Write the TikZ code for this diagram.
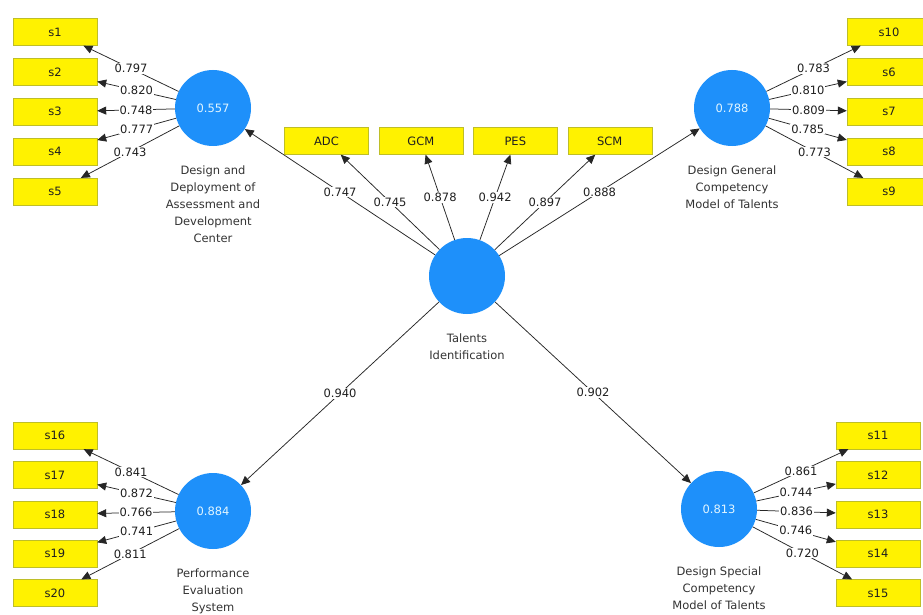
\documentclass[tikz,border=0pt]{standalone}
\usepackage{fontspec}
\setmainfont{DejaVu Sans}
\usetikzlibrary{positioning,arrows.meta}

\definecolor{lvblue}{RGB}{30,144,250}
\definecolor{lvtext}{RGB}{225,245,255}
\definecolor{boxedge}{RGB}{190,190,40}

\begin{document}
\begin{tikzpicture}[x=1pt,y=-1pt,
		every node/.style={font=\fontsize{11.5}{17}\selectfont, text=black!88},
		latent/.style={circle, fill=lvblue, minimum size=76pt, inner sep=0pt, text=lvtext},
		indbox/.style={rectangle, draw=boxedge, fill=yellow, minimum width=84pt, minimum height=27pt, inner sep=0pt},
		lvname/.style={align=center, inner sep=0pt, text=black!80},
		link/.style={draw=black!85, line width=0.75pt, -{Triangle[length=9pt,width=8pt]}},
		wt/.style={fill=white, inner sep=1pt}]
	\useasboundingbox (0,0) rectangle (923,615);
	\clip (0,0) rectangle (923,615);
	\fill[white] (0,0) rectangle (923,615);

	% latent variables
	\node[latent] (ti) at (467,276) {};
	\node[latent] (adc) at (213,108) {0.557};
	\node[latent] (gcm) at (732,108) {0.788};
	\node[latent] (pes) at (213,511) {0.884};
	\node[latent] (scm) at (719,509) {0.813};

	\node[lvname, below=19pt of ti] {Talents\\Identification};
	\node[lvname, below=19pt of adc] {Design and\\Deployment of\\Assessment and\\Development\\Center};
	\node[lvname, below=19pt of gcm] {Design General\\Competency\\Model of Talents};
	\node[lvname, below=19pt of pes] {Performance\\Evaluation\\System};
	\node[lvname, below=19pt of scm] {Design Special\\Competency\\Model of Talents};

	% second order indicators
	\node[indbox] (iadc) at (326.5,141) {ADC};
	\node[indbox, right=10pt of iadc] (igcm) {GCM};
	\node[indbox, right=10pt of igcm] (ipes) {PES};
	\node[indbox, right=10pt of ipes] (iscm) {SCM};

	% indicators of ADC
	\node[indbox] (s1) at (55,32) {s1};
	\node[indbox, below=12.5pt of s1] (s2) {s2};
	\node[indbox, below=12.5pt of s2] (s3) {s3};
	\node[indbox, below=12.5pt of s3] (s4) {s4};
	\node[indbox, below=12.5pt of s4] (s5) {s5};

	% indicators of GCM
	\node[indbox] (s10) at (889,32) {s10};
	\node[indbox, below=12.5pt of s10] (s6) {s6};
	\node[indbox, below=12.5pt of s6] (s7) {s7};
	\node[indbox, below=12.5pt of s7] (s8) {s8};
	\node[indbox, below=12.5pt of s8] (s9) {s9};

	% indicators of PES
	\node[indbox] (s16) at (55,435.5) {s16};
	\node[indbox, below=12pt of s16] (s17) {s17};
	\node[indbox, below=12pt of s17] (s18) {s18};
	\node[indbox, below=12pt of s18] (s19) {s19};
	\node[indbox, below=12pt of s19] (s20) {s20};

	% indicators of SCM
	\node[indbox] (s11) at (878,435.5) {s11};
	\node[indbox, below=12pt of s11] (s12) {s12};
	\node[indbox, below=12pt of s12] (s13) {s13};
	\node[indbox, below=12pt of s13] (s14) {s14};
	\node[indbox, below=12pt of s14] (s15) {s15};

	% structural paths
	\draw[link] (ti) -- node[wt] {0.747} (adc);
	\draw[link] (ti) -- node[wt] {0.888} (gcm);
	\draw[link] (ti) -- node[wt] {0.940} (pes);
	\draw[link] (ti) -- node[wt] {0.902} (scm);
	\draw[link] (ti) -- node[wt] {0.745} (iadc);
	\draw[link] (ti) -- node[wt] {0.878} (igcm);
	\draw[link] (ti) -- node[wt] {0.942} (ipes);
	\draw[link] (ti) -- node[wt] {0.897} (iscm);

	% loadings
	\draw[link] (adc) -- node[wt] {0.797} (s1);
	\draw[link] (adc) -- node[wt] {0.820} (s2);
	\draw[link] (adc) -- node[wt] {0.748} (s3);
	\draw[link] (adc) -- node[wt] {0.777} (s4);
	\draw[link] (adc) -- node[wt] {0.743} (s5);

	\draw[link] (gcm) -- node[wt] {0.783} (s10);
	\draw[link] (gcm) -- node[wt] {0.810} (s6);
	\draw[link] (gcm) -- node[wt] {0.809} (s7);
	\draw[link] (gcm) -- node[wt] {0.785} (s8);
	\draw[link] (gcm) -- node[wt] {0.773} (s9);

	\draw[link] (pes) -- node[wt] {0.841} (s16);
	\draw[link] (pes) -- node[wt] {0.872} (s17);
	\draw[link] (pes) -- node[wt] {0.766} (s18);
	\draw[link] (pes) -- node[wt] {0.741} (s19);
	\draw[link] (pes) -- node[wt] {0.811} (s20);

	\draw[link] (scm) -- node[wt] {0.861} (s11);
	\draw[link] (scm) -- node[wt] {0.744} (s12);
	\draw[link] (scm) -- node[wt] {0.836} (s13);
	\draw[link] (scm) -- node[wt] {0.746} (s14);
	\draw[link] (scm) -- node[wt] {0.720} (s15);
\end{tikzpicture}
\end{document}
